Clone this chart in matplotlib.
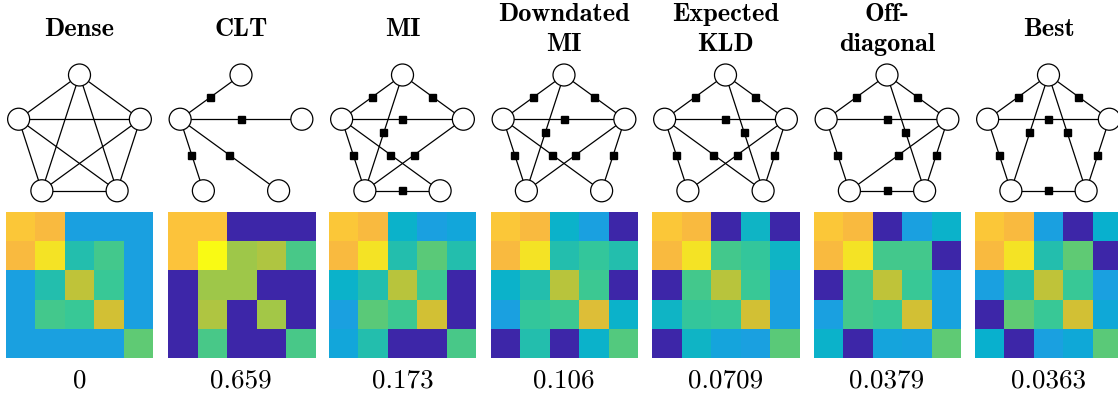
import matplotlib
matplotlib.use('Agg')
import matplotlib.pyplot as plt
import numpy as np
from matplotlib.colors import LinearSegmentedColormap
from matplotlib.patches import Circle, Rectangle


titles = ['Dense', 'CLT', 'MI', 'Downdated\nMI', 'Expected\nKLD', 'Off-\ndiagonal', 'Best']
scores = ['0', '0.659', '0.173', '0.106', '0.0709', '0.0379', '0.0363']

# nodes: 0 top, 1 left, 2 right, 3 bottom-left, 4 bottom-right
edges_dense = [(0, 1), (0, 2), (0, 3), (0, 4), (1, 2), (1, 3), (1, 4), (2, 3), (2, 4), (3, 4)]
edges_clt = [(1, 0), (1, 2), (1, 3), (1, 4)]
edges_mi = [(0, 1), (0, 2), (0, 3), (1, 2), (1, 3), (1, 4), (2, 3), (3, 4)]
edges_downdated = [(0, 1), (0, 2), (0, 3), (1, 2), (1, 3), (1, 4), (2, 3), (2, 4)]
edges_kld = [(0, 1), (0, 2), (0, 4), (1, 2), (1, 3), (1, 4), (2, 3), (2, 4)]
edges_offdiag = [(0, 1), (0, 2), (0, 4), (1, 2), (1, 3), (2, 3), (2, 4), (3, 4)]
edges_best = [(0, 1), (0, 2), (0, 3), (0, 4), (1, 2), (1, 3), (2, 4), (3, 4)]

mat_dense = [[0.88, 0.83, 0.30, 0.30, 0.30],
             [0.83, 0.94, 0.45, 0.52, 0.30],
             [0.30, 0.45, 0.73, 0.50, 0.30],
             [0.30, 0.52, 0.50, 0.76, 0.30],
             [0.30, 0.30, 0.30, 0.30, 0.57]]
mat_clt = [[0.87, 0.87, 0.00, 0.00, 0.00],
           [0.87, 1.00, 0.675, 0.70, 0.53],
           [0.00, 0.675, 0.675, 0.00, 0.00],
           [0.00, 0.70, 0.00, 0.68, 0.00],
           [0.00, 0.53, 0.00, 0.00, 0.53]]
mat_mi = [[0.88, 0.83, 0.39, 0.30, 0.33],
          [0.83, 0.94, 0.45, 0.56, 0.45],
          [0.39, 0.45, 0.715, 0.51, 0.00],
          [0.30, 0.56, 0.51, 0.76, 0.00],
          [0.33, 0.45, 0.00, 0.00, 0.53]]
mat_downdated = [[0.88, 0.83, 0.39, 0.30, 0.00],
                 [0.83, 0.94, 0.45, 0.49, 0.45],
                 [0.39, 0.45, 0.715, 0.51, 0.00],
                 [0.30, 0.49, 0.51, 0.78, 0.39],
                 [0.00, 0.45, 0.00, 0.39, 0.55]]
mat_kld = [[0.88, 0.83, 0.00, 0.40, 0.00],
           [0.83, 0.94, 0.52, 0.49, 0.40],
           [0.00, 0.52, 0.715, 0.50, 0.30],
           [0.40, 0.49, 0.50, 0.76, 0.30],
           [0.00, 0.40, 0.32, 0.30, 0.56]]
mat_offdiag = [[0.88, 0.83, 0.00, 0.30, 0.39],
               [0.83, 0.94, 0.52, 0.52, 0.00],
               [0.00, 0.52, 0.73, 0.50, 0.31],
               [0.30, 0.52, 0.50, 0.76, 0.31],
               [0.39, 0.00, 0.32, 0.31, 0.57]]
mat_best = [[0.88, 0.83, 0.30, 0.00, 0.38],
            [0.83, 0.94, 0.45, 0.57, 0.00],
            [0.30, 0.45, 0.73, 0.50, 0.30],
            [0.00, 0.57, 0.50, 0.76, 0.34],
            [0.38, 0.00, 0.30, 0.34, 0.56]]

all_edges = [edges_dense, edges_clt, edges_mi, edges_downdated, edges_kld, edges_offdiag, edges_best]
all_mats = [mat_dense, mat_clt, mat_mi, mat_downdated, mat_kld, mat_offdiag, mat_best]
has_factors = [False, True, True, True, True, True, True]

parula = LinearSegmentedColormap.from_list('parula', [
    (0.000, (0.2422, 0.1504, 0.6603)),
    (0.125, (0.2805, 0.3393, 0.9649)),
    (0.250, (0.1540, 0.5902, 0.9218)),
    (0.375, (0.0236, 0.6886, 0.8184)),
    (0.500, (0.2161, 0.7843, 0.5923)),
    (0.625, (0.5044, 0.7993, 0.3480)),
    (0.750, (0.8000, 0.7600, 0.2000)),
    (0.830, (0.9800, 0.7300, 0.2500)),
    (0.875, (0.9900, 0.7700, 0.2300)),
    (0.940, (0.9600, 0.8900, 0.1500)),
    (1.000, (0.9769, 0.9839, 0.0805)),
])

W, H = 1118, 398
fig = plt.figure(figsize=(W / 100, H / 100), dpi=100)

step = 161.5
R = 64  # pentagon radius in px
angles = np.deg2rad([90, 162, 18, 234, 306])
node_x = R * np.cos(angles)
node_y = -R * np.sin(angles)

for i in range(7):
    cx = 79.5 + step * i

    # graph
    gax = fig.add_axes([(cx - 80) / W, 1 - 219 / H, 160 / W, 160 / H])
    gax.set_xlim(-80, 80)
    gax.set_ylim(80, -80)
    gax.axis('off')
    for a, b in all_edges[i]:
        gax.plot([node_x[a], node_x[b]], [node_y[a], node_y[b]],
                 color='black', lw=0.9, zorder=1, clip_on=False)
        if has_factors[i]:
            mx = (node_x[a] + node_x[b]) / 2
            my = (node_y[a] + node_y[b]) / 2
            gax.add_patch(Rectangle((mx - 3.5, my - 3.5), 7, 7, color='black',
                                    zorder=2, clip_on=False))
    for n in range(5):
        gax.add_patch(Circle((node_x[n], node_y[n]), 11, facecolor='white',
                             edgecolor='black', lw=0.9, zorder=3, clip_on=False))

    # matrix
    hax = fig.add_axes([(6 + step * i) / W, 1 - 358 / H, 147 / W, 146 / H])
    hax.imshow(np.array(all_mats[i]), cmap=parula, vmin=0, vmax=1,
               aspect='auto', interpolation='nearest')
    hax.axis('off')

    fig.text(cx / W, 1 - 29.5 / H, titles[i], ha='center', va='center',
             fontfamily='cmb10', fontsize=19, linespacing=1.38)
    fig.text(cx / W, 1 - 381 / H, scores[i], ha='center', va='center',
             fontfamily='cmr10', fontsize=19.5)

fig.savefig('out.png', dpi=100)
